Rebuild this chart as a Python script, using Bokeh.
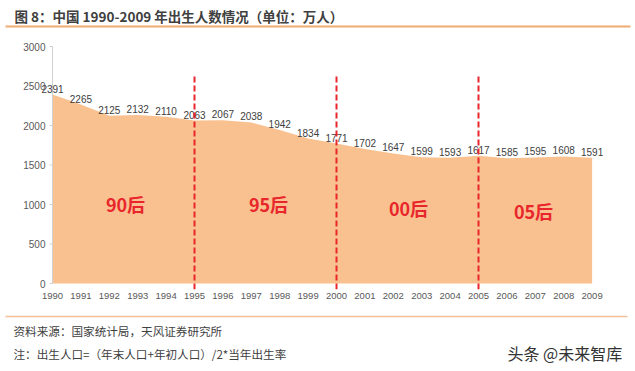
from bokeh.plotting import figure
from bokeh.models import Range1d, FixedTicker, ColumnDataSource
from bokeh.layouts import column, row
from bokeh.core.properties import value
from bokeh.embed import file_html
from bokeh.resources import INLINE

# ---- data ----
years = [1990, 1991, 1992, 1993, 1994, 1995, 1996, 1997, 1998, 1999,
         2000, 2001, 2002, 2003, 2004, 2005, 2006, 2007, 2008, 2009]
births = [2391, 2265, 2125, 2132, 2110, 2063, 2067, 2038, 1942, 1834,
          1771, 1702, 1647, 1599, 1593, 1617, 1585, 1595, 1608, 1591]
divider_years = [1995, 2000, 2005]
era_labels = ["90后", "95后", "00后", "05后"]
y_ticks = [0, 500, 1000, 1500, 2000, 2500, 3000]

title_text = "图 8：中国 1990-2009 年出生人数情况（单位：万人）"
source_text = "资料来源：国家统计局，天风证券研究所"
note_text = "注：出生人口=（年末人口+年初人口）/2*当年出生率"
watermark_text = "头条 @未来智库"

CJK = "Noto Sans CJK SC"
NUM = "Liberation Sans"
RED = "#e8262b"
PAGE_W = 635

# ---- header strip (page y 0..30) ----
TH = 30
t = figure(width=PAGE_W, height=TH, output_backend="svg", toolbar_location=None,
           x_range=Range1d(0, PAGE_W), y_range=Range1d(TH, 0),
           x_axis_type=None, y_axis_type=None, min_border=0)
t.outline_line_color = None
t.grid.visible = False
t.text(x=[14], y=[15], text=[title_text], text_font=value(CJK),
       text_font_size="13.5px", text_font_style="bold", text_color="#404040",
       text_baseline="middle", text_align="left")
t.segment(x0=[5], x1=[630], y0=[26], y1=[26], line_color="#efab70", line_width=1.8)

# ---- main chart (page y 30..306) ----
MH = 276
TOP_PAGE = 30
BL, BR = 40, 25
BT = 40 - TOP_PAGE
BB = (TOP_PAGE + MH) - 289
PX_PER_YEAR = 28.4
X_START = 1990 - (52 - BL) / PX_PER_YEAR
X_END = X_START + (PAGE_W - BL - BR) / PX_PER_YEAR
PX_PER_UNIT = 0.079
Y_START = -(289 - 283) / PX_PER_UNIT
Y_END = (283 - 40) / PX_PER_UNIT


def xd(page_x):
    return 1990 + (page_x - 52) / PX_PER_YEAR


def yd(page_y):
    return (283 - page_y) / PX_PER_UNIT


p = figure(width=PAGE_W, height=MH, output_backend="svg", toolbar_location=None,
           x_range=Range1d(X_START, X_END), y_range=Range1d(Y_START, Y_END),
           min_border_left=BL, min_border_right=BR, min_border_top=BT,
           min_border_bottom=BB)
p.outline_line_color = None
p.grid.visible = False

src = ColumnDataSource(dict(x=years, y=births, lab=[str(b) for b in births]))

p.varea(x="x", y1=0, y2="y", source=src, fill_color="#f9c090")

# y axis line and ticks at the first year
tick_len = 3 / PX_PER_YEAR
p.segment(x0=[years[0]], x1=[years[0]], y0=[y_ticks[0]], y1=[y_ticks[-1]],
          line_color="#d0d0d0", line_width=1)
p.segment(x0=[years[0] - tick_len] * len(y_ticks), x1=[years[0]] * len(y_ticks),
          y0=y_ticks, y1=y_ticks, line_color="#d0d0d0", line_width=1)

# data labels
p.text(x="x", y="y", text="lab", source=src, text_align="center",
       text_baseline="bottom", y_offset=-2, text_font=value(NUM),
       text_font_size="10px", text_color="#404040")

# dividers
p.segment(x0=divider_years, x1=divider_years, y0=[Y_START] * 3,
          y1=[yd(74)] * 3, line_color=RED, line_width=2, line_dash="6 3")

# era labels
era_x = [xd(125), xd(268), xd(408), xd(533)]
era_y = [yd(203), yd(203), yd(207), yd(210)]
p.text(x=era_x, y=era_y, text=era_labels, text_align="center",
       text_baseline="middle", text_font=value(CJK), text_font_size="18px",
       text_font_style="bold", text_color=RED)

# axes
xa = p.xaxis[0]
xa.ticker = FixedTicker(ticks=years)
xa.axis_line_color = None
xa.major_tick_line_color = None
xa.minor_tick_line_color = None
xa.major_tick_out = 0
xa.major_tick_in = 0
xa.major_label_standoff = 3
xa.major_label_text_font = NUM
xa.major_label_text_font_size = "9.5px"
xa.major_label_text_color = "#595959"

ya = p.yaxis[0]
ya.ticker = FixedTicker(ticks=y_ticks)
ya.axis_line_color = None
ya.major_tick_line_color = None
ya.minor_tick_line_color = None
ya.major_tick_out = 0
ya.major_tick_in = 0
ya.major_label_standoff = -5
ya.major_label_text_font = NUM
ya.major_label_text_font_size = "10px"
ya.major_label_text_color = "#595959"

# ---- footer strip (page y 306..371) ----
FT = TOP_PAGE + MH
FH = 371 - FT
f = figure(width=PAGE_W, height=FH, output_backend="svg", toolbar_location=None,
           x_range=Range1d(0, PAGE_W), y_range=Range1d(371, FT),
           x_axis_type=None, y_axis_type=None, min_border=0)
f.outline_line_color = None
f.grid.visible = False
f.segment(x0=[5], x1=[627], y0=[316], y1=[316], line_color="#f3c098", line_width=1.5)
f.text(x=[13, 13], y=[330, 353], text=[source_text, note_text], text_font=value(CJK),
       text_font_size="11.6px", text_color="#404040", text_baseline="middle",
       text_align="left")
f.text(x=[507], y=[352], text=[watermark_text], text_font=value(CJK),
       text_font_size="16px", text_color="#333333", text_baseline="middle",
       text_align="left")

layout = column(row(t), p, row(f), spacing=0)
open("out.html", "w").write(file_html(layout, INLINE))
